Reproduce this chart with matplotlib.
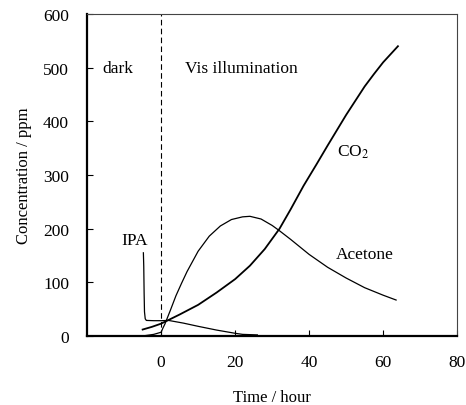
import numpy as np
import matplotlib.pyplot as plt

plt.rcParams['font.family'] = ['Liberation Serif', 'DejaVu Serif']
plt.rcParams['mathtext.fontset'] = 'stix'

# Time (hour) / concentration (ppm)
ipa_t = [-4.8, -4.7, -4.6, -4.5, -4.3, -4.0, -2.0, 0.0, 2.0, 6.0, 10.0, 15.0, 20.0, 22.0, 26.0]
ipa_c = [155, 130, 80, 45, 32, 29, 28.5, 28.5, 29, 24, 18, 11, 5, 3, 2]

ace_t = [-5.0, -2.0, 0.0, 0.5, 1.0, 2.5, 4.0, 5.5, 7.0, 10.0, 13.0, 16.0, 19.0, 22.0, 24.0,
         27.0, 30.0, 32.0, 35.0, 40.0, 45.0, 50.0, 55.0, 60.0, 63.5]
ace_c = [0, 3, 7, 15, 22, 48, 75, 98, 120, 158, 186, 205, 217, 222, 223,
         218, 206, 196, 180, 152, 128, 108, 90, 76, 67]

co2_t = [-5.0, -2.5, 0.0, 5.0, 10.0, 15.0, 20.0, 24.0, 28.0, 32.0, 35.0, 38.5, 42.0,
         45.0, 50.0, 55.0, 57.5, 60.0, 64.0]
co2_c = [12, 17, 23, 40, 58, 81, 106, 131, 162, 200, 236, 280, 320,
         355, 412, 465, 488, 510, 540]

fig = plt.figure(figsize=(4.66, 4.06), dpi=100)
ax = fig.add_axes([0.187, 0.170, 0.794, 0.793])

ax.plot(ipa_t, ipa_c, color='black', lw=0.9)
ax.plot(ace_t, ace_c, color='black', lw=0.9)
ax.plot(co2_t, co2_c, color='black', lw=1.3)
ax.axvline(0, color='black', lw=0.8, ls=(0, (5, 3)))

ax.text(-11.6, 500, 'dark', fontsize=12.5, ha='center', va='center')
ax.text(6.5, 500, 'Vis illumination', fontsize=12.5, ha='left', va='center')
ax.text(47.6, 345, 'CO$_2$', fontsize=12.5, ha='left', va='center')
ax.text(47.3, 153, 'Acetone', fontsize=12.5, ha='left', va='center')
ax.text(-7.3, 179, 'IPA', fontsize=12.5, ha='center', va='center')

ax.set_xlim(-20, 80)
ax.set_ylim(0, 600)
ax.set_xticks([0, 20, 40, 60, 80])
ax.set_yticks([0, 100, 200, 300, 400, 500, 600])
ax.tick_params(direction='in', length=4, labelsize=12.5, width=0.8)
ax.tick_params(axis='x', pad=13)
ax.tick_params(axis='y', pad=13)

for s in ['left', 'bottom']:
    ax.spines[s].set_linewidth(1.6)
for s in ['top', 'right']:
    ax.spines[s].set_linewidth(0.8)
    ax.spines[s].set_color('#444444')

ax.set_xlabel('Time / hour', fontsize=12, labelpad=14)
ax.set_ylabel('Concentration / ppm', fontsize=12, labelpad=8)

fig.savefig('out.png', dpi=100)
